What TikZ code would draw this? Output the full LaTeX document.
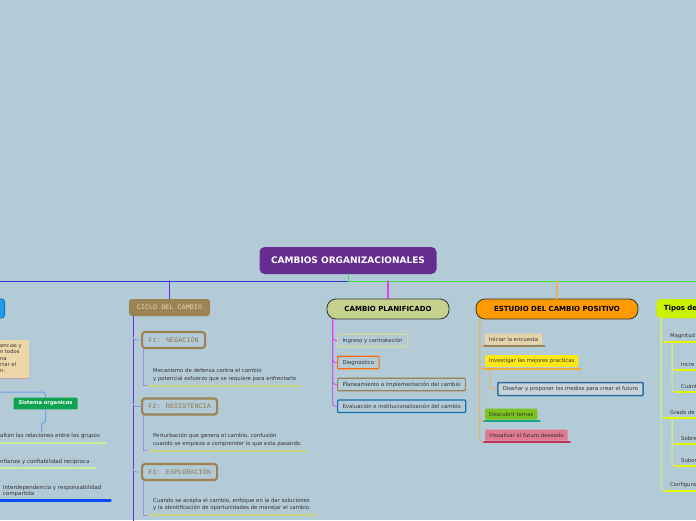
\documentclass[tikz,border=0pt]{standalone}
\usepackage{fontspec}
\setmainfont{DejaVu Sans}
\newfontfamily\cmono{Liberation Mono}
\usetikzlibrary{positioning}

\definecolor{fondo}{HTML}{B3CAD7}
\definecolor{morado}{HTML}{662D91}
\definecolor{azulraya}{HTML}{2A3CE0}
\definecolor{verderaya}{HTML}{44E03A}
\definecolor{violeta}{HTML}{6A2BE8}
\definecolor{lila}{HTML}{9A8CF0}
\definecolor{cafe}{HTML}{9C8354}
\definecolor{crema}{HTML}{EADBB6}
\definecolor{oliva}{HTML}{C9D385}
\definecolor{texto}{HTML}{333333}
\definecolor{pistacho}{HTML}{C4D28D}
\definecolor{fucsia}{HTML}{E040F0}
\definecolor{naranja}{HTML}{FF9A00}
\definecolor{naranjaclaro}{HTML}{E8B262}
\definecolor{limon}{HTML}{CCF200}
\definecolor{limonraya}{HTML}{E3F800}
\definecolor{limonclaro}{HTML}{D4EE80}
\definecolor{beige}{HTML}{E7D4A9}
\definecolor{amarillo}{HTML}{FFE81A}
\definecolor{dorado}{HTML}{F0AE30}
\definecolor{grisazul}{HTML}{C6D3DC}
\definecolor{azulacero}{HTML}{2E6E9E}
\definecolor{lima}{HTML}{7DC21E}
\definecolor{turquesa}{HTML}{17A88C}
\definecolor{rosa}{HTML}{DF7A92}
\definecolor{carmin}{HTML}{C13159}
\definecolor{azulcaja}{HTML}{1E9EEA}
\definecolor{azulborde}{HTML}{1070B0}
\definecolor{beigeizq}{HTML}{EDD6A8}
\definecolor{rosado}{HTML}{C8A0B0}
\definecolor{verdesis}{HTML}{0FA34F}
\definecolor{celeste}{HTML}{6F9FE8}
\definecolor{verdeclaro}{HTML}{C6EE9A}
\definecolor{azulfuerte}{HTML}{0A4AF8}

\tikzset{
  raiz/.style={fill=morado, rounded corners=5pt, text=white, font=\bfseries\fontsize{9}{10}\selectfont, minimum width=177pt, minimum height=27pt},
  rama/.style={draw=black!80, line width=0.8pt, rounded corners=9pt, minimum height=20pt, font=\bfseries\fontsize{7}{8}\selectfont},
  ciclobox/.style={fill=cafe, text=crema, rounded corners=3pt, minimum width=81pt, minimum height=17pt, font=\cmono\fontsize{6.8}{8}\selectfont},
  fase/.style={anchor=west, draw=cafe, fill=fondo, line width=2.2pt, rounded corners=3pt, minimum height=16pt, text=cafe!90!black, font=\cmono\fontsize{6.8}{8}\selectfont},
  desc/.style={anchor=south west, align=left, inner xsep=5pt, inner ysep=4pt, text=texto, font=\fontsize{5.35}{7.3}\selectfont},
  caja/.style={anchor=west, inner xsep=5pt, minimum height=12.5pt, line width=1.2pt, rounded corners=1pt, text=texto, font=\fontsize{5.35}{6}\selectfont},
  etiq/.style={anchor=west, inner xsep=4pt, minimum height=11pt, rounded corners=1pt, text=texto, font=\fontsize{5.35}{6}\selectfont},
  tipo/.style={anchor=south west, align=left, text width=40pt, inner xsep=5pt, inner ysep=3pt, text=texto, font=\fontsize{5.3}{6}\selectfont},
  lista/.style={anchor=south west, align=left, inner xsep=0pt, inner ysep=3.5pt, text=texto, font=\fontsize{5.5}{6.7}\selectfont},
}

\begin{document}
\begin{tikzpicture}[x=1pt,y=-1pt,line cap=round]
\useasboundingbox (0,0) rectangle (696,520);
\fill[fondo] (0,0) rectangle (696,520);
\clip (0,0) rectangle (696,520);

% raiz y linea principal
\node[raiz] (raiz) at (348,260.5) {CAMBIOS ORGANIZACIONALES};
\coordinate (hub) at (348,281);
\coordinate (oeste) at (0,281);
\coordinate (este) at (696,281);
\draw[azulraya,line width=1pt] (oeste) -- (hub);
\draw[verderaya,line width=1pt] (raiz.south) -- (hub) -- (este);

% ramas
\node[ciclobox] (ciclo) at (169.5,307.5) {CICLO DEL CAMBIO};
\node[rama,fill=pistacho,minimum width=122pt] (plan) at (388,309) {CAMBIO PLANIFICADO};
\node[rama,fill=naranja,minimum width=162pt] (estudio) at (557,309) {ESTUDIO DEL CAMBIO POSITIVO};
\node[rama,fill=limon,draw=none,rounded corners=4pt,anchor=west,align=left,text width=45pt,inner xsep=7.5pt,minimum height=19pt] (tipos) at (656,308.5) {Tipos de};
\draw[violeta,line width=1.2pt] (ciclo.north |- hub) -- (ciclo.north);
\draw[fucsia,line width=1.2pt] (plan.north |- hub) -- (plan.north);
\draw[naranjaclaro,line width=1.2pt] (estudio.north |- hub) -- (estudio.north);

% ciclo del cambio
\coordinate (finciclo) at (133,521);
\draw[violeta,line width=1pt] (finciclo |- ciclo.south) -- (finciclo);
\node[fase,minimum width=63pt] (f1) at (141,340) {F1: NEGACIÓN};
\node[fase,minimum width=75pt] (f2) at (141,406.5) {F2: RESISTENCIA};
\node[fase,minimum width=75pt] (f3) at (141,472) {F3: EXPLORACIÓN};
\node[desc] (d1) at (148,385.5) {Mecanismo de defensa contra el cambio\\ y potencial esfuerzo que se requiere para enfrentarlo};
\node[desc] (d2) at (148,450.5) {Perturbación que genera el cambio, confusión\\cuando se empieza a comprender lo que esta pasando.};
\node[desc] (d3) at (148,515.3) {Cuando se acepta el cambio, enfoque en la dar soluciones\\y la identificación de oportunidades de manejar el cambio.};
\foreach \f/\d in {f1/d1,f2/d2,f3/d3}{
  \draw[lila,line width=0.9pt,rounded corners=3pt] (\f.west -| finciclo) ++(0,-5) |- (\f.west);
  \draw[lila,line width=0.9pt] ([xshift=2pt]\f.south west) |- (\d.south west);
  \draw[oliva,line width=2pt] (\d.south west) -- (\d.south east);
}

% cambio planificado
\coordinate (plantr) at ([xshift=6pt]plan.south west);
\node[caja,draw=oliva!80!white] (p1) at (337,340.5) {Ingreso y contratación};
\node[caja,draw=orange!85!red] (p2) at (337,362.5) {Diagnóstico};
\node[caja,draw=cafe] (p3) at (337,384.5) {Planeamiento e implementación del cambio};
\node[caja,draw=azulborde] (p4) at (337,406.3) {Evaluación e institucionalización del cambio};
\foreach \p/\c in {p4/55,p3/70,p2/85,p1/100}{
  \draw[fucsia!\c!lila,line width=1pt,rounded corners=3pt] (plantr) |- (\p.west);
}

% estudio del cambio positivo
\coordinate (esttr) at ([xshift=4pt]estudio.south west);
\node[etiq,fill=beige] (e1) at (485,339) {Iniciar la encuesta};
\node[etiq,fill=amarillo] (e2) at (485,361) {Investigar las mejores practicas};
\node[etiq,fill=grisazul,draw=azulacero,line width=1.5pt,minimum height=13pt,inner xsep=5pt] (e3) at (497,389) {Diseñar y proponer los medios para crear el futuro};
\node[etiq,fill=lima] (e4) at (485,414) {Descubrir temas};
\node[etiq,fill=rosa] (e5) at (485,435) {Visualizar el futuro deseado};
\foreach \e in {e5,e4,e2,e1}{
  \draw[naranjaclaro,line width=1pt,rounded corners=3pt] (esttr) |- ([yshift=-1.5pt]\e.south west);
}
\draw[naranjaclaro,line width=1pt,rounded corners=2pt] ([xshift=5pt,yshift=-1.5pt]e2.south west) |- (e3.west);
\foreach \e/\c in {e1/cafe,e2/dorado,e4/turquesa,e5/carmin}{
  \draw[\c,line width=2pt] ([xshift=-1pt,yshift=-1.5pt]\e.south west) -- ([xshift=2pt,yshift=-1.5pt]\e.south east);
}

% tipos de
\coordinate (tiptr) at ([xshift=5pt]tipos.south west);
\node[tipo] (t1) at (665,342) {Magnitud};
\node[tipo] (t2) at (676,370) {Incre};
\node[tipo] (t3) at (676,392) {Cuánt};
\node[tipo] (t4) at (665,418) {Grado de};
\node[tipo] (t5) at (676,444) {Sobre};
\node[tipo] (t6) at (676,466) {Subor};
\node[tipo] (t7) at (665,491) {Configura};
\foreach \t in {t7,t4,t1}{
  \draw[limonclaro,line width=1pt,rounded corners=3pt] (tiptr) |- (\t.south west);
}
\foreach \a/\b in {t1/t3,t1/t2,t4/t6,t4/t5}{
  \draw[limonclaro,line width=1pt,rounded corners=3pt] ([xshift=7pt]\a.south west) |- (\b.south west);
}
\foreach \t in {t1,t2,t3,t4,t5,t6,t7}{
  \draw[limonraya,line width=2.5pt] (\t.south west) -- (\t.south east);
}

% lado izquierdo
\node[fill=azulcaja,draw=azulborde,line width=0.8pt,rounded corners=3pt,anchor=east,minimum width=30pt,minimum height=19pt] (izq) at (5,308.5) {};
\node[fill=beigeizq,anchor=north east,minimum width=60pt,minimum height=37.5pt] (nota) at (29.3,340) {};
\draw[rosado,line width=0.8pt] (nota.south west) -- (nota.south east);
\node[anchor=north west,align=left,inner sep=0pt,text=texto,font=\fontsize{5.2}{6.3}\selectfont] (notatxt) at (0,343.5) {encias y\\n todos\\na\\rtar el\\n.};
\node[fill=verdesis,text=white,rounded corners=1pt,minimum width=64pt,minimum height=11.5pt,font=\bfseries\fontsize{5.2}{6}\selectfont] (sis) at (45.5,403.5) {Sistema organicos};
\coordinate (sisin) at (0,392);
\coordinate (sisout) at (41.5,431);
\draw[celeste,line width=1pt,rounded corners=3pt] (sisin) -| (sis.north);
\draw[celeste,line width=1pt,rounded corners=2pt] (sis.south) -- ++(0,13) -| (sisout);
\node[lista] (l1) at (0,442.7) {altan las relaciones entre los grupos};
\node[lista] (l2) at (0,468.3) {nfianza y confiabilidad reciproca};
\node[lista,inner xsep=2.7pt] (l3) at (0,500.7) {Interdependencia y responsabilidad\\compartida};
\draw[verdeclaro,line width=2pt] (l1.south west) -- ([xshift=6pt]l1.south east);
\draw[verdeclaro,line width=2pt] (l2.south west) -- ([xshift=6pt]l2.south east);
\draw[azulfuerte,line width=3pt] (l3.south west) -- ([xshift=6pt]l3.south east);
\end{tikzpicture}
\end{document}
